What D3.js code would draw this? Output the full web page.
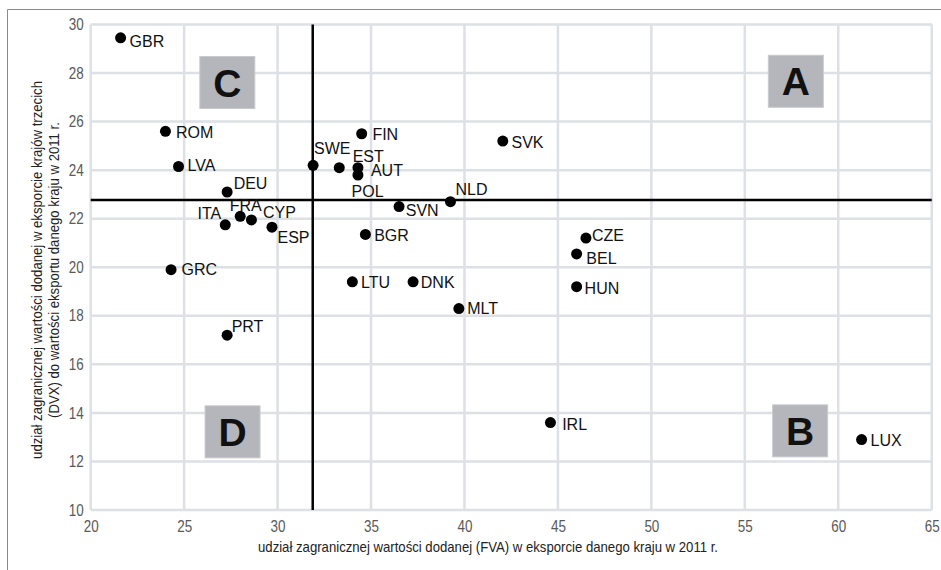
<!DOCTYPE html>
<html>
<head>
<meta charset="utf-8">
<script src="https://cdn.jsdelivr.net/npm/d3@7"></script>
<style>
  html, body { margin: 0; padding: 0; background: #fff; }
  svg { display: block; }
</style>
</head>
<body>
<svg id="chart" width="941" height="570"></svg>
<script>
// ---- data ----
const countries = ["GBR","ROM","LVA","DEU","ITA","FRA","CYP","ESP","GRC","PRT",
                   "SWE","EST","AUT","POL","FIN","SVK","NLD","SVN","BGR","LTU",
                   "DNK","MLT","CZE","BEL","HUN","IRL","LUX"];
const fva = [21.6, 24.0, 24.7, 27.3, 27.2, 28.0, 28.6, 29.7, 24.3, 27.3,
             31.9, 33.3, 34.3, 34.3, 34.5, 42.05, 39.25, 36.5, 34.7, 34.0,
             37.25, 39.7, 46.5, 46.0, 46.0, 44.6, 61.25];
const dvx = [29.45, 25.6, 24.15, 23.1, 21.75, 22.1, 21.95, 21.65, 19.9, 17.2,
             24.2, 24.1, 24.1, 23.8, 25.5, 25.2, 22.7, 22.5, 21.35, 19.4,
             19.4, 18.3, 21.2, 20.55, 19.2, 13.6, 12.9];
const meanFVA = 31.88;
const meanDVX = 22.77;
const xTicks = [20, 25, 30, 35, 40, 45, 50, 55, 60, 65];
const yTicks = [10, 12, 14, 16, 18, 20, 22, 24, 26, 28, 30];
const quadLetters = ["A", "B", "C", "D"];
const quadX = [57.73, 57.96, 27.31, 27.59];
const quadY = [27.66, 13.26, 27.61, 13.22];
const xTitle = "udział zagranicznej wartości dodanej (FVA) w eksporcie danego kraju w 2011 r.";
const yTitle1 = "udział zagranicznej wartości dodanej w eksporcie krajów trzecich";
const yTitle2 = "(DVX) do wartości eksportu danego kraju w 2011 r.";

// ---- label placement (px offsets from dot, anchor) ----
const labelPos = {
  GBR:[9,9,"start"], ROM:[10.5,6.5,"start"], LVA:[9,4.5,"start"], DEU:[6.5,-3,"start"],
  ITA:[-4,-6,"end"], FRA:[5.5,-5,"middle"], CYP:[11.5,-1.7,"start"], ESP:[5.5,16,"start"],
  GRC:[10.5,5.7,"start"], PRT:[4.5,-3.3,"start"], SWE:[1,-11,"start"], EST:[13.4,-5.6,"start"],
  AUT:[13,8,"start"], POL:[-6.4,22,"start"], FIN:[10.7,6.7,"start"], SVK:[8.7,7.3,"start"],
  NLD:[5,-7,"start"], SVN:[6.7,9.3,"start"], BGR:[8.7,6.7,"start"], LTU:[8.7,6,"start"],
  DNK:[7.7,6,"start"], MLT:[8.3,5.7,"start"], CZE:[6,3.3,"start"], BEL:[9.7,10,"start"],
  HUN:[8,7.7,"start"], IRL:[11.7,7.3,"start"], LUX:[9,6,"start"]
};

const svg = d3.select("#chart");
const sans = "'Liberation Sans',Arial,Helvetica,sans-serif";

// condense text horizontally (reference uses a narrow face)
function condense(sel, factor) {
  sel.each(function () {
    const w = this.getComputedTextLength();
    d3.select(this).attr("textLength", w * factor).attr("lengthAdjust", "spacingAndGlyphs");
  });
}

const x = d3.scaleLinear().domain([20, 65]).range([90.7, 931.7]);
const y = d3.scaleLinear().domain([10, 30]).range([510, 24.5]);

// outer frame
svg.append("path").attr("d", "M7.5,570 V9.5 H941")
  .attr("fill", "none").attr("stroke", "#8a8a8a").attr("stroke-width", 1);

// grid
const grid = svg.append("g");
grid.selectAll("line.v").data(xTicks).join("line")
  .attr("x1", d => x(d)).attr("x2", d => x(d))
  .attr("y1", y(30)).attr("y2", y(10))
  .attr("stroke", "#dde0e4").attr("stroke-width", 2.5);
grid.selectAll("line.h").data(yTicks).join("line")
  .attr("x1", x(20)).attr("x2", x(65))
  .attr("y1", d => y(d)).attr("y2", d => y(d))
  .attr("stroke", "#dde0e4").attr("stroke-width", 2.5);

// axes (labels only)
const xAxis = d3.axisBottom(x).tickValues(xTicks).tickSize(0).tickPadding(11);
const gx = svg.append("g").attr("transform", `translate(0,${y(10)})`).call(xAxis);
const yAxis = d3.axisLeft(y).tickValues(yTicks).tickSize(0).tickPadding(7);
const gy = svg.append("g").attr("transform", `translate(${x(20)},0)`).call(yAxis);
[gx, gy].forEach(g => {
  g.select(".domain").remove();
  g.selectAll("text").attr("font-family", sans).attr("font-size", 16).attr("fill", "#595959")
    .call(condense, 0.84);
});

// quadrant boxes
const qg = svg.append("g");
quadLetters.forEach((L, i) => {
  const cx = x(quadX[i]), cy = y(quadY[i]);
  qg.append("rect").attr("x", cx - 27.5).attr("y", cy - 26).attr("width", 55).attr("height", 52)
    .attr("fill", "#b4b6bb").attr("stroke", "#c9cacd").attr("stroke-width", 1);
  qg.append("text").attr("x", cx).attr("y", cy + 14)
    .attr("text-anchor", "middle").attr("font-family", sans).attr("font-weight", "bold")
    .attr("font-size", 39).attr("fill", "#111").text(L);
});

// reference lines
svg.append("line").attr("x1", x(20)).attr("x2", x(65)).attr("y1", y(meanDVX)).attr("y2", y(meanDVX))
  .attr("stroke", "#000").attr("stroke-width", 2.5);
svg.append("line").attr("x1", x(meanFVA)).attr("x2", x(meanFVA)).attr("y1", y(30)).attr("y2", y(10))
  .attr("stroke", "#000").attr("stroke-width", 2.5);

// points
const pts = countries.map((c, i) => ({c, fx: fva[i], dy: dvx[i]}));
svg.append("g").selectAll("circle").data(pts).join("circle")
  .attr("cx", d => x(d.fx)).attr("cy", d => y(d.dy)).attr("r", 5.5).attr("fill", "#000");

svg.append("g").selectAll("text").data(pts).join("text")
  .attr("x", d => x(d.fx) + labelPos[d.c][0])
  .attr("y", d => y(d.dy) + labelPos[d.c][1])
  .attr("text-anchor", d => labelPos[d.c][2])
  .attr("font-family", sans).attr("font-size", 16).attr("fill", "#111")
  .text(d => d.c);

// axis titles
const xt = svg.append("text").attr("x", 258).attr("y", 552).attr("text-anchor", "start")
  .attr("font-family", sans).attr("font-size", 14.5).attr("fill", "#222").text(xTitle);
const factor = 460 / xt.node().getComputedTextLength();
xt.attr("textLength", 460).attr("lengthAdjust", "spacingAndGlyphs");

const yt = svg.append("text").attr("transform", "translate(0,270) rotate(-90)")
  .attr("text-anchor", "middle").attr("font-family", sans).attr("font-size", 14.5).attr("fill", "#222");
yt.append("tspan").attr("x", 0).attr("y", 42).text(yTitle1);
const yt2 = svg.append("text").attr("transform", "translate(0,270) rotate(-90)")
  .attr("text-anchor", "middle").attr("font-family", sans).attr("font-size", 14.5).attr("fill", "#222");
yt2.append("tspan").attr("x", 0).attr("y", 59).text(yTitle2);
[yt, yt2].forEach(t => {
  const w = t.node().getComputedTextLength();
  t.select("tspan").attr("textLength", w * factor).attr("lengthAdjust", "spacingAndGlyphs");
});
</script>
</body>
</html>
